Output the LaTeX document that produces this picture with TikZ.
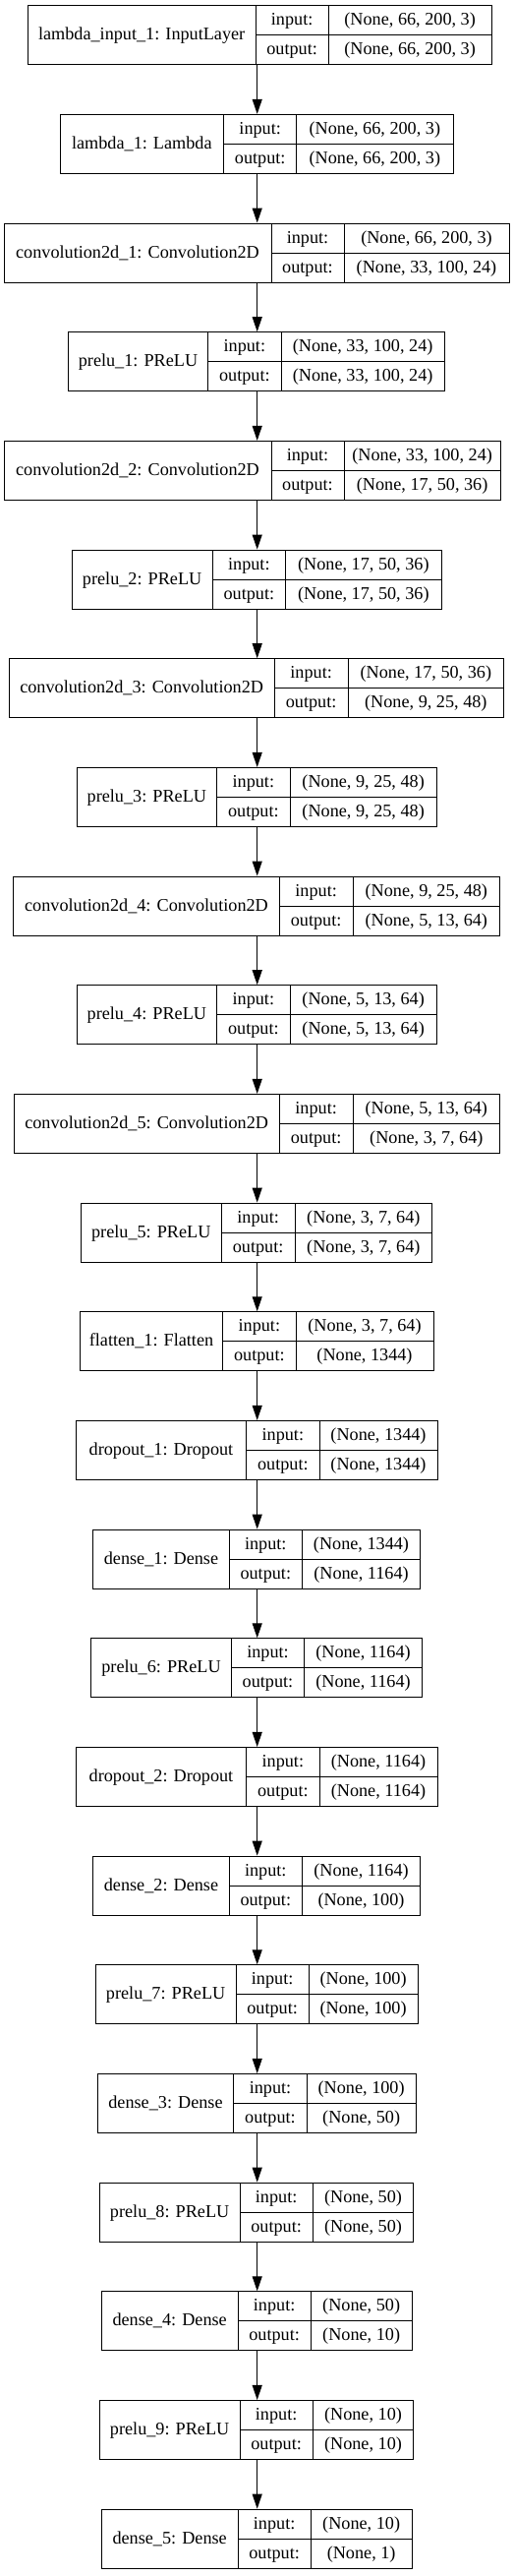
\documentclass[tikz,border=0pt]{standalone}
\usepackage{fontspec}
\setmainfont{Liberation Serif}
\usetikzlibrary{arrows.meta}

\begin{document}
\begin{tikzpicture}[x=0.75pt, y=-0.75pt,
  cell/.style={draw, line width=0.75pt, inner sep=0pt,
    font=\fontsize{13.65pt}{16pt}\selectfont, text height=10.2pt, text depth=2.7pt},
  feed/.style={-{Triangle[length=11.25pt, width=7.5pt]}, line width=0.75pt}]

% page
\useasboundingbox (0,0) rectangle (523,2619);
\coordinate (axis) at (261.7,0);

% layer records: index/label/left/split1/split2/right/input/output
\foreach \i/\lbl/\xa/\xb/\xc/\xd/\vin/\vout in {
  0/{lambda\_input\_1: InputLayer}/28.3/260/334.3/500/{(None, 66, 200, 3)}/{(None, 66, 200, 3)},
  1/{lambda\_1: Lambda}/61/227.7/301.7/461/{(None, 66, 200, 3)}/{(None, 66, 200, 3)},
  2/{convolution2d\_1: Convolution2D}/4/276/350/518/{(None, 66, 200, 3)}/{(None, 33, 100, 24)},
  3/{prelu\_1: PReLU}/69.3/211.7/286/452.3/{(None, 33, 100, 24)}/{(None, 33, 100, 24)},
  4/{convolution2d\_2: Convolution2D}/4/276/350/509.3/{(None, 33, 100, 24)}/{(None, 17, 50, 36)},
  5/{prelu\_2: PReLU}/73.3/216/290.7/449/{(None, 17, 50, 36)}/{(None, 17, 50, 36)},
  6/{convolution2d\_3: Convolution2D}/9/279.3/354/512.7/{(None, 17, 50, 36)}/{(None, 9, 25, 48)},
  7/{prelu\_3: PReLU}/78/220.7/295/444.3/{(None, 9, 25, 48)}/{(None, 9, 25, 48)},
  8/{convolution2d\_4: Convolution2D}/13.7/284.3/359/508.7/{(None, 9, 25, 48)}/{(None, 5, 13, 64)},
  9/{prelu\_4: PReLU}/78/220.7/295/444.3/{(None, 5, 13, 64)}/{(None, 5, 13, 64)},
  10/{convolution2d\_5: Convolution2D}/14/284.3/359/508.7/{(None, 5, 13, 64)}/{(None, 3, 7, 64)},
  11/{prelu\_5: PReLU}/82.3/225.3/300/439.7/{(None, 3, 7, 64)}/{(None, 3, 7, 64)},
  12/{flatten\_1: Flatten}/81.3/226.7/301/441/{(None, 3, 7, 64)}/{(None, 1344)},
  13/{dropout\_1: Dropout}/77.3/250.7/325/445/{(None, 1344)}/{(None, 1344)},
  14/{dense\_1: Dense}/94.7/233.3/307.3/427.7/{(None, 1344)}/{(None, 1164)},
  15/{prelu\_6: PReLU}/92.7/235.3/309.7/429.3/{(None, 1164)}/{(None, 1164)},
  16/{dropout\_2: Dropout}/77.3/250.7/325/445/{(None, 1164)}/{(None, 1164)},
  17/{dense\_2: Dense}/94.7/233.3/307.3/427.7/{(None, 1164)}/{(None, 100)},
  18/{prelu\_7: PReLU}/97.3/240/314.3/425/{(None, 100)}/{(None, 100)},
  19/{dense\_3: Dense}/99.3/237.7/312.3/423/{(None, 100)}/{(None, 50)},
  20/{prelu\_8: PReLU}/101.3/244/318.3/420.7/{(None, 50)}/{(None, 50)},
  21/{dense\_4: Dense}/103.3/242/316.3/419/{(None, 50)}/{(None, 10)},
  22/{prelu\_9: PReLU}/101.3/244/318.3/420.7/{(None, 10)}/{(None, 10)},
  23/{dense\_5: Dense}/103.3/242/316.3/419/{(None, 10)}/{(None, 1)}}{
  \pgfmathsetmacro\yt{5.7+\i*110.67}
  \node[cell, minimum width={(\xb-\xa)*0.75pt}, minimum height=45pt] (lbl\i) at ({(\xa+\xb)/2},{\yt+30}) {\lbl};
  \node[cell, minimum width={(\xc-\xb)*0.75pt}, minimum height=22.5pt] (ink\i) at ({(\xb+\xc)/2},{\yt+15}) {input:};
  \node[cell, minimum width={(\xd-\xc)*0.75pt}, minimum height=22.5pt] (inv\i) at ({(\xc+\xd)/2},{\yt+15}) {\vin};
  \node[cell, minimum width={(\xc-\xb)*0.75pt}, minimum height=22.5pt] (outk\i) at ({(\xb+\xc)/2},{\yt+45}) {output:};
  \node[cell, minimum width={(\xd-\xc)*0.75pt}, minimum height=22.5pt] (outv\i) at ({(\xc+\xd)/2},{\yt+45}) {\vout};
}

% arrows
\foreach \i [evaluate=\i as \j using int(\i+1)] in {0,...,22}
  \draw[feed] (lbl\i.south -| axis) -- (lbl\j.north -| axis);

\end{tikzpicture}
\end{document}
